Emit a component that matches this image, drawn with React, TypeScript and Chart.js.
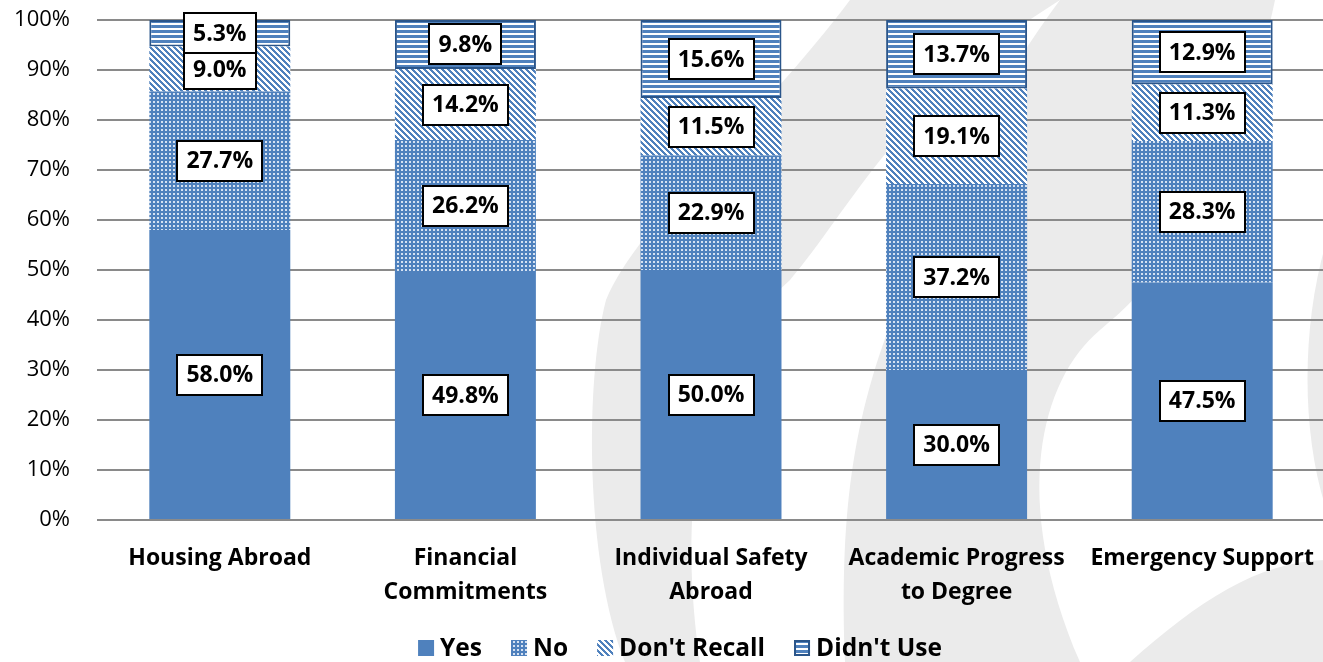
import React, { useEffect, useRef } from "react";
import { Chart, registerables } from "chart.js";

Chart.register(...registerables);

const categories: string[][] = [
  ["Housing Abroad"],
  ["Financial", "Commitments"],
  ["Individual Safety", "Abroad"],
  ["Academic Progress", "to Degree"],
  ["Emergency Support"],
];
const seriesNames = ["Yes", "No", "Don't Recall", "Didn't Use"];
const yesValues = [58.0, 49.8, 50.0, 30.0, 47.5];
const noValues = [27.7, 26.2, 22.9, 37.2, 28.3];
const dontRecallValues = [9.0, 14.2, 11.5, 19.1, 11.3];
const didntUseValues = [5.3, 9.8, 15.6, 13.7, 12.9];
const yMin = 0;
const yMax = 100;
const yStep = 10;

const FONT = '"Open Sans", "Liberation Sans", sans-serif';
const BLUE: [number, number, number] = [79, 129, 189];
const WHITE: [number, number, number] = [255, 255, 255];
const LIGHT: [number, number, number] = [214, 226, 242];

function makePattern(
  ctx: CanvasRenderingContext2D,
  w: number,
  h: number,
  fn: (x: number, y: number) => [number, number, number]
): CanvasPattern {
  const c = document.createElement("canvas");
  c.width = w;
  c.height = h;
  const cx = c.getContext("2d")!;
  const img = cx.createImageData(w, h);
  for (let y = 0; y < h; y++) {
    for (let x = 0; x < w; x++) {
      const [r, g, b] = fn(x, y);
      const i = (y * w + x) * 4;
      img.data[i] = r;
      img.data[i + 1] = g;
      img.data[i + 2] = b;
      img.data[i + 3] = 255;
    }
  }
  cx.putImageData(img, 0, 0);
  return ctx.createPattern(c, "repeat")!;
}

const watermarkPlugin = {
  id: "watermark",
  beforeDraw(chart: any) {
    const ctx: CanvasRenderingContext2D = chart.ctx;
    ctx.save();
    ctx.fillStyle = "#ffffff";
    ctx.fillRect(0, 0, chart.width, chart.height);
    ctx.fillStyle = "#ebebeb";
    ctx.beginPath();
    ctx.moveTo(850, 0);
    ctx.bezierCurveTo(760, 120, 640, 220, 606, 300);
    ctx.bezierCurveTo(585, 380, 585, 560, 625, 662);
    ctx.lineTo(700, 662);
    ctx.bezierCurveTo(680, 520, 690, 370, 790, 280);
    ctx.bezierCurveTo(850, 210, 900, 100, 1060, 0);
    ctx.closePath();
    ctx.fill();
    ctx.beginPath();
    ctx.moveTo(845, 662);
    ctx.bezierCurveTo(840, 520, 850, 420, 900, 300);
    ctx.bezierCurveTo(950, 180, 1000, 80, 1060, 0);
    ctx.lineTo(1275, 0);
    ctx.bezierCurveTo(1250, 120, 1200, 250, 1100, 330);
    ctx.bezierCurveTo(1040, 380, 1010, 500, 1080, 662);
    ctx.closePath();
    ctx.fill();
    ctx.beginPath();
    ctx.moveTo(1330, 230);
    ctx.bezierCurveTo(1300, 320, 1300, 440, 1330, 520);
    ctx.closePath();
    ctx.fill();
    ctx.beginPath();
    ctx.moveTo(1130, 662);
    ctx.bezierCurveTo(1200, 600, 1260, 560, 1330, 560);
    ctx.lineTo(1330, 662);
    ctx.closePath();
    ctx.fill();
    ctx.restore();
  },
};

const labelPlugin = {
  id: "boxLabels",
  afterDatasetsDraw(chart: any) {
    const ctx: CanvasRenderingContext2D = chart.ctx;
    ctx.save();
    ctx.font = `bold 23px ${FONT}`;
    ctx.textAlign = "center";
    ctx.textBaseline = "middle";
    chart.data.datasets.forEach((ds: any, di: number) => {
      const meta = chart.getDatasetMeta(di);
      meta.data.forEach((bar: any, i: number) => {
        const v = ds.data[i] as number;
        const p = bar.getProps(["x", "y", "base"], true);
        const cy = (p.y + p.base) / 2;
        const text = v.toFixed(1) + "%";
        const tw = ctx.measureText(text).width;
        const bw = Math.round(tw + 18);
        const bh = 40;
        const bx = Math.round(p.x - bw / 2);
        const by = Math.round(cy - bh / 2);
        ctx.fillStyle = "#ffffff";
        ctx.fillRect(bx, by, bw, bh);
        ctx.lineWidth = 2;
        ctx.strokeStyle = "#000000";
        ctx.strokeRect(bx, by, bw, bh);
        ctx.fillStyle = "#000000";
        ctx.fillText(text, p.x, cy + 1);
      });
    });
    ctx.restore();
  },
};

const legendPlugin = {
  id: "customLegend",
  afterDraw(chart: any) {
    const ctx: CanvasRenderingContext2D = chart.ctx;
    ctx.save();
    ctx.font = `bold 24.5px ${FONT}`;
    ctx.textBaseline = "middle";
    ctx.textAlign = "left";
    const box = 16;
    const gapText = 6;
    const gapItems = 29;
    const items = chart.data.datasets.map((ds: any) => ({
      label: ds.label,
      fill: ds.backgroundColor,
      bw: ds.borderWidth || 0,
      bc: ds.borderColor,
      w: ctx.measureText(ds.label).width,
    }));
    let total = 0;
    items.forEach((it: any, i: number) => {
      total += box + gapText + it.w + (i < items.length - 1 ? gapItems : 0);
    });
    let x = 680 - total / 2;
    const cy = 648;
    items.forEach((it: any) => {
      ctx.fillStyle = it.fill;
      ctx.fillRect(x, cy - box / 2, box, box);
      if (it.bw) {
        ctx.lineWidth = 2;
        ctx.strokeStyle = it.bc;
        ctx.strokeRect(x + 1, cy - box / 2 + 1, box - 2, box - 2);
      }
      ctx.fillStyle = "#000000";
      ctx.fillText(it.label, x + box + gapText, cy + 1);
      x += box + gapText + it.w + gapItems;
    });
    ctx.restore();
  },
};

export default function App() {
  const ref = useRef<HTMLCanvasElement | null>(null);

  useEffect(() => {
    const canvas = ref.current!;
    const ctx = canvas.getContext("2d")!;
    const solid = `rgb(${BLUE.join(",")})`;
    const dotted = makePattern(ctx, 4, 4, (x, y) =>
      (x === 1 || x === 2) && (y === 1 || y === 2) ? LIGHT : BLUE
    );
    const diagonal = makePattern(ctx, 6, 6, (x, y) =>
      (((x - y) % 6) + 6) % 6 < 3 ? BLUE : WHITE
    );
    const horizontal = makePattern(ctx, 5, 5, (_x, y) => (y < 3 ? BLUE : WHITE));

    const chart = new Chart(canvas, {
      type: "bar",
      data: {
        labels: categories,
        datasets: [
          { label: seriesNames[0], data: yesValues, backgroundColor: solid, borderWidth: 0 },
          { label: seriesNames[1], data: noValues, backgroundColor: dotted as any, borderWidth: 0 },
          { label: seriesNames[2], data: dontRecallValues, backgroundColor: diagonal as any, borderWidth: 0 },
          {
            label: seriesNames[3],
            data: didntUseValues,
            backgroundColor: horizontal as any,
            borderWidth: 2,
            borderColor: "#2a558a",
            borderSkipped: false,
          },
        ],
      },
      options: {
        animation: false,
        responsive: false,
        devicePixelRatio: 1,
        barPercentage: 0.574,
        categoryPercentage: 1,
        layout: { padding: { top: 20, left: 0, right: 0, bottom: 0 } },
        plugins: {
          legend: { display: false },
          tooltip: { enabled: false },
        },
        scales: {
          x: {
            stacked: true,
            grid: { display: false, drawTicks: false },
            border: { display: false },
            ticks: {
              font: { family: FONT, size: 23, weight: "bold", lineHeight: 1.45 },
              color: "#000000",
              padding: 22,
              maxRotation: 0,
              autoSkip: false,
            },
            afterFit: (s: any) => {
              s.height = 142;
              s.paddingLeft = 0;
              s.paddingRight = 0;
            },
          },
          y: {
            stacked: true,
            min: yMin,
            max: yMax,
            grid: { color: "#8a8a8a", lineWidth: 2, drawTicks: false },
            border: { display: false },
            ticks: {
              stepSize: yStep,
              font: { family: FONT, size: 22 },
              color: "#000000",
              padding: 27,
              callback: (v: any) => `${v}%`,
            },
            afterFit: (s: any) => {
              s.width = 97;
              s.paddingTop = 0;
              s.paddingBottom = 0;
            },
          },
        },
      } as any,
      plugins: [watermarkPlugin, labelPlugin, legendPlugin],
    });
    return () => chart.destroy();
  }, []);

  return (
    <div
      style={{
        position: "fixed",
        left: 0,
        top: 0,
        width: 1323,
        height: 662,
        overflow: "hidden",
        background: "#fff",
      }}
    >
      <canvas ref={ref} width={1325} height={662} style={{ display: "block" }} />
    </div>
  );
}
